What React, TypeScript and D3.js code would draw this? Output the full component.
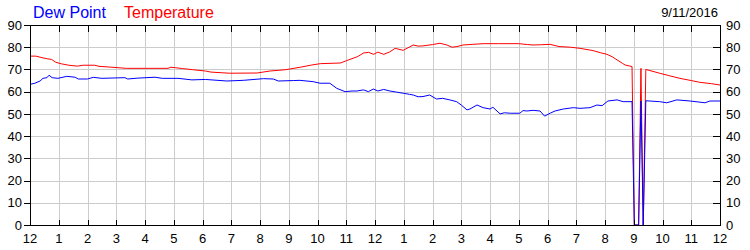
import React from "react";
import * as d3 from "d3";

const hourLabels = ["12","1","2","3","4","5","6","7","8","9","10","11","12","1","2","3","4","5","6","7","8","9","10","11","12"];
const yTicks = [0,10,20,30,40,50,60,70,80,90];

const tempHours = [0,0.2,0.45,0.6,0.75,0.9,1.1,1.35,1.65,1.85,2.25,2.4,2.85,3.35,4.8,4.9,5.05,5.3,5.65,6.1,6.3,6.95,7.9,8.1,8.35,8.9,9.4,9.8,10.1,10.8,11.0,11.4,11.6,11.78,11.95,12.1,12.3,12.5,12.7,12.98,13.33,13.5,13.67,14.0,14.26,14.5,14.68,14.85,15.06,15.4,15.76,16.3,17.0,17.3,17.5,17.75,18.09,18.4,18.8,19.13,19.58,19.85,20.07,20.25,20.42,20.6,20.7,20.94,21.02,21.17,21.25,21.33,21.42,21.9,22.2,22.6,23.0,23.3,23.7,24];
const tempValues = [76.0,76.0,75.2,74.8,74.5,73.2,72.5,71.9,71.5,71.9,71.9,71.4,71.0,70.5,70.5,71.0,70.8,70.4,69.9,69.3,68.8,68.3,68.4,68.8,69.3,69.9,71.0,72.0,72.6,72.9,73.9,75.8,77.4,77.7,76.8,77.8,76.8,77.8,79.5,78.6,81.0,80.5,80.6,81.2,81.8,81.0,80.0,80.3,81.0,81.3,81.6,81.6,81.6,81.2,81.0,81.1,81.3,80.3,80.0,79.5,78.5,77.5,76.8,75.7,74.3,72.8,72.0,71.3,0,0,70.5,0,70.0,68.3,67.3,66.0,65.0,64.2,63.6,63.0];

const dewHours = [0,0.17,0.35,0.45,0.59,0.66,0.77,0.97,1.28,1.57,1.68,2.0,2.2,2.5,3.3,3.4,3.75,4.35,4.6,5.15,5.63,6.1,6.85,7.42,8.12,8.46,8.64,9.16,9.39,9.85,10.09,10.43,10.67,10.96,11.2,11.37,11.6,11.77,11.94,12.1,12.3,12.52,12.75,12.98,13.2,13.33,13.5,13.67,13.9,14.14,14.35,14.6,14.84,15.0,15.2,15.3,15.55,15.76,16.0,16.1,16.35,16.5,16.7,17.04,17.15,17.28,17.5,17.74,17.9,18.09,18.26,18.55,18.9,19.13,19.48,19.72,19.9,20.1,20.42,20.63,20.94,21.02,21.17,21.25,21.33,21.42,21.9,22.15,22.5,22.96,23.48,23.65,24];
const dewValues = [63.3,63.8,64.8,66.0,66.3,67.4,66.3,66.0,66.9,66.5,65.7,65.7,66.45,66.0,66.3,65.7,66.1,66.5,66.0,66.0,65.3,65.5,64.8,65.1,65.85,65.7,64.8,65.0,65.1,64.5,63.8,63.8,61.5,60.0,60.3,60.3,60.8,60.0,61.2,60.3,61.0,60.3,59.8,59.3,58.8,58.5,57.7,57.8,58.5,56.7,57.0,56.3,55.5,54.0,51.8,52.2,54.0,52.8,52.2,53.0,50.0,50.5,50.3,50.3,51.5,51.3,51.6,51.3,49.0,50.3,51.3,52.2,52.8,52.5,52.8,54.0,53.7,55.8,56.3,55.5,55.5,0,0,55.8,0,55.9,55.5,55.0,56.3,55.8,55.0,55.8,55.8];

const dateLabel = "9/11/2016";

export default function App() {
  const W = 750, H = 250;
  const left = 30, right = 720, top = 25, bottom = 225;
  const x = d3.scaleLinear().domain([0, 24]).range([left, right]);
  const y = d3.scaleLinear().domain([0, 90]).range([bottom, top]);
  const font = "'Liberation Sans', Arial, sans-serif";

  const tempData = tempHours.map((h, i) => [h, tempValues[i]] as [number, number]);
  const dewData = dewHours.map((h, i) => [h, dewValues[i]] as [number, number]);
  const line = d3.line<[number, number]>().x(d => x(d[0])).y(d => y(d[1]));

  const hours = d3.range(0, 25);
  const px = (v: number) => Math.round(v) + 0.5;

  return (
    <svg width={W} height={H} style={{ position: "fixed", left: 0, top: 0, background: "#fff" }} fontFamily={font}>
      <rect x={0} y={0} width={W} height={H} fill="#fff" />
      {/* grid */}
      <g stroke="#cccccc" strokeWidth={1} shapeRendering="crispEdges">
        {hours.slice(1, 24).map(h => (
          <line key={"vg" + h} x1={px(x(h))} x2={px(x(h))} y1={top} y2={bottom} />
        ))}
        {yTicks.slice(1, yTicks.length - 1).map(v => (
          <line key={"hg" + v} x1={left} x2={right} y1={px(y(v))} y2={px(y(v))} />
        ))}
      </g>
      {/* lines */}
      <path d={line(tempData) || ""} fill="none" stroke="#ff0000" strokeWidth={1} />
      <path d={line(dewData) || ""} fill="none" stroke="#0000ff" strokeWidth={1} />
      {/* frame and ticks */}
      <g stroke="#000" strokeWidth={1} shapeRendering="crispEdges">
        <rect x={px(left)} y={px(top)} width={Math.round(right - left)} height={Math.round(bottom - top)} fill="none" />
        {hours.slice(1, 24).map(h => (
          <g key={"t" + h}>
            <line x1={px(x(h))} x2={px(x(h))} y1={top} y2={top + 7} />
            <line x1={px(x(h))} x2={px(x(h))} y1={bottom} y2={bottom - 5} />
          </g>
        ))}
        {yTicks.map(v => (
          <g key={"yt" + v}>
            <line x1={left - 6} x2={left} y1={px(y(v))} y2={px(y(v))} />
            <line x1={right - 7} x2={right} y1={px(y(v))} y2={px(y(v))} />
          </g>
        ))}
      </g>
      {/* y labels */}
      <g fontSize={13} fill="#000">
        {yTicks.map(v => (
          <text key={"yl" + v} x={22} y={y(v)} dy="0.36em" textAnchor="end">{v}</text>
        ))}
        {yTicks.map(v => (
          <text key={"yr" + v} x={726} y={y(v)} dy="0.36em" textAnchor="start">{v}</text>
        ))}
        {hourLabels.map((lab, i) => (
          <text key={"xl" + i} x={x(i)} y={243} textAnchor="middle">{lab}</text>
        ))}
      </g>
      {/* legend and date */}
      <text x={33} y={18} fontSize={16} fill="#0000ff">Dew Point</text>
      <text x={124} y={18} fontSize={16} fill="#ff0000">Temperature</text>
      <text x={718} y={17} fontSize={13} fill="#000" textAnchor="end">{dateLabel}</text>
    </svg>
  );
}
